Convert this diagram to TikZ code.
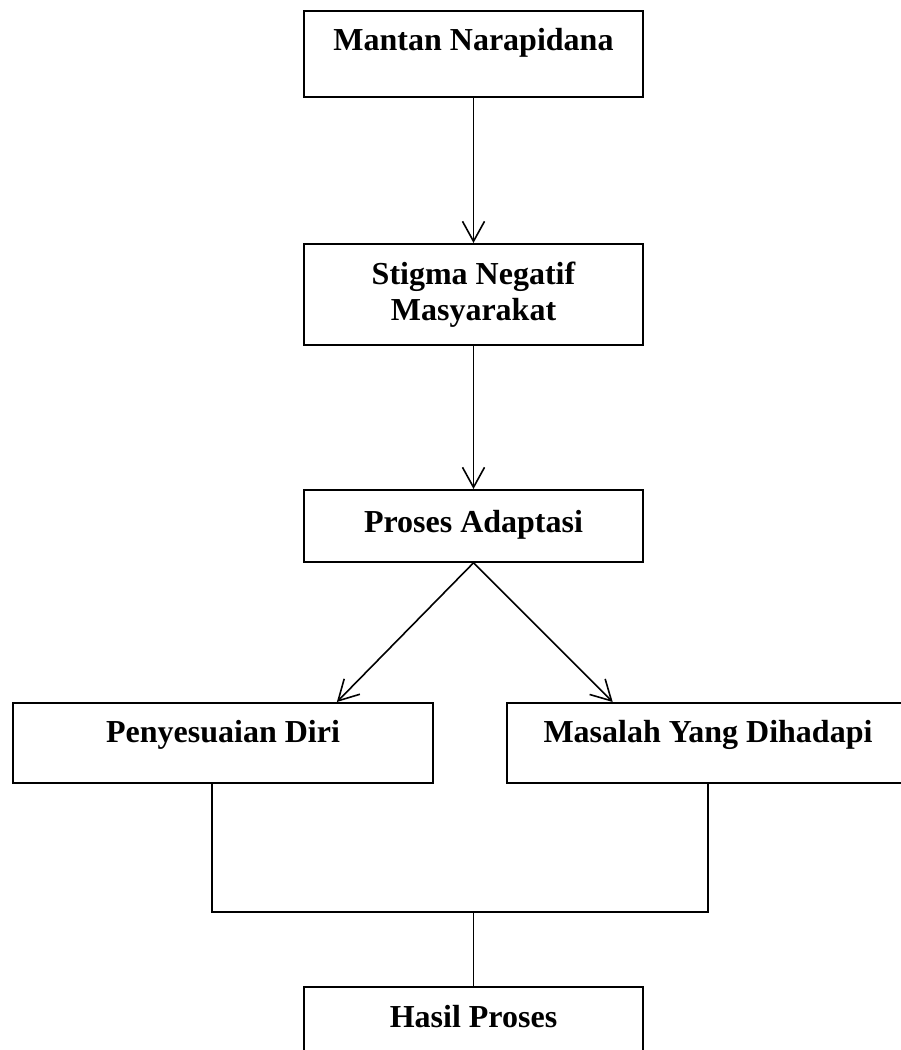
\documentclass[tikz,border=0pt]{standalone}
\usepackage{fontspec}
\setmainfont{Liberation Serif}
\usetikzlibrary{arrows.meta}
\usetikzlibrary{calc}
\tikzset{>={Straight Barb[length=20pt,width=22pt]}}
\tikzstyle{flowbox}=[draw,line width=1.8pt,inner sep=0pt,anchor=north,font=\fontsize{32}{36}\selectfont\bfseries,align=center]
\tikzstyle{flowline}=[line width=1.6pt]

\begin{document}
\begin{tikzpicture}[x=1pt,y=-1pt]
  \useasboundingbox (0,0) rectangle (901,1050);

  % Boxes, top to bottom
  \node[flowbox,minimum width=339pt,text height=40pt,text depth=46pt] (mantan) at (473.5,10) {Mantan Narapidana};
  \node[flowbox,minimum width=339pt,minimum height=101pt] (stigma) at (473.5,243) {Stigma Negatif\\Masyarakat};
  \node[flowbox,minimum width=339pt,text height=43pt,text depth=29pt] (adaptasi) at (473.5,489) {Proses Adaptasi};
  \node[flowbox,minimum width=420pt,text height=40pt,text depth=40pt] (diri) at (223,702) {Penyesuaian Diri};
  \node[flowbox,minimum width=402pt,text height=40pt,text depth=40pt] (masalah) at (708,702) {Masalah Yang Dihadapi};
  \node[flowbox,minimum width=339pt,text height=41pt,text depth=45pt] (hasil) at (473.5,986) {Hasil Proses};

  % Arrows
  \draw[flowline,->] (mantan) -- (stigma);
  \draw[flowline,->] (stigma) -- (adaptasi);
  \draw[flowline,->] (adaptasi.south) -- ($(diri.north west)!0.77!(diri.north east)$);
  \draw[flowline,->] (adaptasi.south) -- ($(masalah.north west)!0.264!(masalah.north east)$);

  % Joining lines
  \coordinate (merge) at ($(hasil.north)+(0,-74)$);
  \draw[flowline] ($(diri.south west)!0.474!(diri.south east)$) |- (merge);
  \draw[flowline] (masalah.south) |- (merge);
  \draw[flowline] (merge) -- (hasil.north);
\end{tikzpicture}
\end{document}
